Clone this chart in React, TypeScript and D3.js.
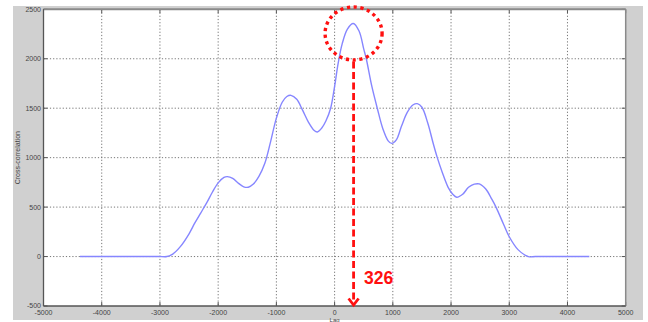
import React from "react";
import * as d3 from "d3";

// Cross-correlation of two signals versus lag (samples)
const lags = [
  -4375, -3100, -3000, -2880, -2780, -2650, -2500, -2400, -2300, -2200, -2100, -2000,
  -1900, -1843, -1750, -1650, -1560, -1482, -1400, -1300, -1200, -1100, -1000,
  -900, -820, -749, -650, -550, -450, -350, -297, -220, -150, -68, 0, 60, 130,
  220, 321, 420, 500, 544, 640, 733, 830, 920, 981, 1060, 1150, 1250, 1350,
  1420, 1500, 1600, 1700, 1764, 1850, 1950, 2030, 2097, 2200, 2300, 2400, 2485,
  2600, 2700, 2772, 2900, 3000, 3150, 3327, 3450, 4375,
];
const values = [
  0, 0, 0, 0, 25, 100, 230, 340, 440, 540, 650, 745,
  800, 808, 790, 740, 705, 701, 730, 810, 940, 1160, 1400,
  1560, 1618, 1630, 1590, 1480, 1360, 1275, 1260, 1300, 1370, 1500, 1720, 1950, 2150,
  2300, 2357, 2280, 2100, 2000, 1720, 1500, 1290, 1170, 1144, 1180, 1320, 1460, 1535,
  1546, 1510, 1350, 1130, 1000, 850, 700, 630, 600, 630, 700, 732, 734,
  680, 580, 500, 330, 200, 70, 0, 0, 0,
];

const xTicks = [-5000, -4000, -3000, -2000, -1000, 0, 1000, 2000, 3000, 4000, 5000];
const yTicks = [-500, 0, 500, 1000, 1500, 2000, 2500];

const peakLag = 326;
const peakValue = 2357;

const W = 648;
const H = 322;
const plot = { left: 43.5, right: 625.7, top: 9.3, bottom: 306 };

export default function App() {
  const x = d3.scaleLinear().domain([-5000, 5000]).range([plot.left, plot.right]);
  const y = d3.scaleLinear().domain([-500, 2500]).range([plot.bottom, plot.top]);

  const points: [number, number][] = lags.map((l, i) => [l, values[i]]);
  const line = d3
    .line<[number, number]>()
    .x((d) => x(d[0]))
    .y((d) => y(d[1]))
    .curve(d3.curveCatmullRom.alpha(0.5));

  const font = "'Liberation Sans', Arial, sans-serif";
  const px = x(peakLag);
  const cy = y(peakValue) + 10;

  return (
    <svg
      width={W}
      height={H}
      style={{ position: "absolute", left: 0, top: 0, display: "block" }}
    >
      <rect x={0} y={0} width={W} height={H} fill="#ffffff" />
      <rect x={13} y={6} width={630} height={314} fill="#d0d0d0" />
      <rect
        x={plot.left}
        y={plot.top}
        width={plot.right - plot.left}
        height={plot.bottom - plot.top}
        fill="#ffffff"
      />

      {/* dotted grid */}
      <g stroke="#666" strokeWidth={0.9} strokeDasharray="1.2,2">
        {xTicks.slice(1, -1).map((t) => (
          <line key={"gx" + t} x1={x(t)} x2={x(t)} y1={plot.top} y2={plot.bottom} />
        ))}
        {yTicks.slice(1, -1).map((t) => (
          <line key={"gy" + t} x1={plot.left} x2={plot.right} y1={y(t)} y2={y(t)} />
        ))}
      </g>

      {/* inward ticks */}
      <g stroke="#555" strokeWidth={1}>
        {xTicks.map((t) => (
          <g key={"tx" + t}>
            <line x1={x(t)} x2={x(t)} y1={plot.bottom} y2={plot.bottom - 4} />
            <line x1={x(t)} x2={x(t)} y1={plot.top} y2={plot.top + 4} />
          </g>
        ))}
        {yTicks.map((t) => (
          <g key={"ty" + t}>
            <line x1={plot.left} x2={plot.left + 4} y1={y(t)} y2={y(t)} />
            <line x1={plot.right} x2={plot.right - 4} y1={y(t)} y2={y(t)} />
          </g>
        ))}
      </g>

      {/* axes box */}
      <line x1={plot.left} x2={plot.right} y1={plot.top} y2={plot.top} stroke="#8a8a8a" strokeWidth={2} />
      <line x1={plot.right} x2={plot.right} y1={plot.top} y2={plot.bottom} stroke="#8a8a8a" strokeWidth={1.5} />
      <line x1={plot.left} x2={plot.left} y1={plot.top} y2={plot.bottom} stroke="#555" strokeWidth={1.3} />
      <line x1={plot.left} x2={plot.right} y1={plot.bottom} y2={plot.bottom} stroke="#555" strokeWidth={1.3} />

      {/* tick labels */}
      <g fontFamily={font} fontSize={7} fill="#444">
        {yTicks.map((t) => (
          <text key={"ly" + t} x={plot.left - 2.5} y={y(t)} dy="0.35em" textAnchor="end">
            {t}
          </text>
        ))}
        {xTicks.map((t) => (
          <text key={"lx" + t} x={x(t)} y={312.3} dy="0.35em" textAnchor="middle">
            {t}
          </text>
        ))}
        <text
          transform={`translate(18,${(plot.top + plot.bottom) / 2}) rotate(-90)`}
          textAnchor="middle"
          dy="0.35em"
        >
          Cross-correlation
        </text>
        <text x={x(0)} y={321.5} textAnchor="middle" fontSize={6}>
          Lag
        </text>
      </g>

      {/* cross-correlation curve */}
      <path d={line(points) ?? ""} fill="none" stroke="#8686ff" strokeWidth={1.4} />

      {/* peak annotation */}
      <g stroke="#ff1010" fill="none">
        <ellipse
          cx={px}
          cy={cy}
          rx={28.5}
          ry={26.5}
          strokeWidth={3.4}
          strokeDasharray="3.2,3.6"
        />
        <line x1={px} x2={px} y1={cy + 28} y2={plot.bottom - 2} strokeWidth={2.8} strokeDasharray="7,3.5" />
        <polyline
          points={`${px - 5},${plot.bottom - 7.5} ${px},${plot.bottom - 1} ${px + 5},${plot.bottom - 7.5}`}
          strokeWidth={2.8}
        />
      </g>
      <text
        x={364}
        y={283.5}
        fontFamily={font}
        fontWeight="bold"
        fontSize={17.5}
        fill="#ff1010"
      >
        {peakLag}
      </text>
    </svg>
  );
}
